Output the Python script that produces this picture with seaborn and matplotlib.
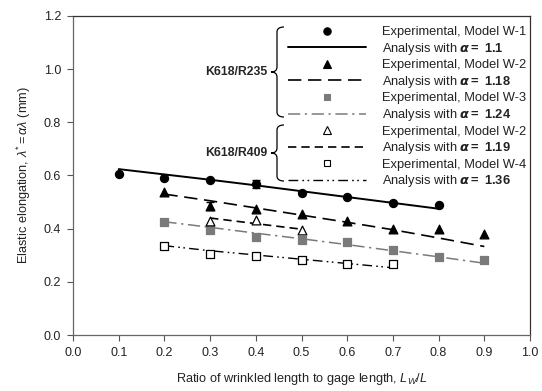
import numpy as np
import pandas as pd
import seaborn as sns
import matplotlib
matplotlib.use("Agg")
import matplotlib.pyplot as plt
from matplotlib.lines import Line2D
from matplotlib.path import Path
from matplotlib.patches import PathPatch

sns.set_style("white")
plt.rcParams['font.family'] = ['Liberation Sans', 'DejaVu Sans']
plt.rcParams['mathtext.fontset'] = 'custom'
plt.rcParams['mathtext.rm'] = 'Liberation Sans'
plt.rcParams['mathtext.it'] = 'Liberation Sans:italic'
plt.rcParams['mathtext.bf'] = 'Liberation Sans:bold'

# ---- data ----
x_w1 = [0.1, 0.2, 0.3, 0.4, 0.5, 0.6, 0.7, 0.8]
exp_w1 = [0.606, 0.590, 0.583, 0.567, 0.534, 0.519, 0.496, 0.490]
ana_w1 = [0.624, 0.604, 0.584, 0.563, 0.541, 0.519, 0.497, 0.475]

x_w2a = [0.2, 0.3, 0.4, 0.5, 0.6, 0.7, 0.8, 0.9]
exp_w2a = [0.537, 0.486, 0.474, 0.455, 0.429, 0.397, 0.397, 0.380]
ana_w2a = [0.530, 0.505, 0.478, 0.451, 0.424, 0.396, 0.365, 0.333]

x_w3 = [0.2, 0.3, 0.4, 0.5, 0.6, 0.7, 0.8, 0.9]
exp_w3 = [0.425, 0.395, 0.369, 0.357, 0.350, 0.320, 0.294, 0.282]
ana_w3 = [0.426, 0.405, 0.383, 0.362, 0.340, 0.317, 0.294, 0.270]

x_w2b = [0.3, 0.4, 0.5]
exp_w2b = [0.429, 0.433, 0.395]
ana_w2b = [0.440, 0.419, 0.398]

x_w4 = [0.2, 0.3, 0.4, 0.5, 0.6, 0.7]
exp_w4 = [0.335, 0.305, 0.297, 0.282, 0.267, 0.267]
ana_w4 = [0.336, 0.317, 0.301, 0.285, 0.269, 0.253]

x_ticks = [0.0, 0.1, 0.2, 0.3, 0.4, 0.5, 0.6, 0.7, 0.8, 0.9, 1.0]
y_ticks = [0.0, 0.2, 0.4, 0.6, 0.8, 1.0, 1.2]

group_labels = ["K618/R235", "K618/R409"]
legend_labels = [
    "Experimental, Model W-1", r"Analysis with $\boldsymbol{\alpha}\mathbf{{=}\ 1.1}$",
    "Experimental, Model W-2", r"Analysis with $\boldsymbol{\alpha}\mathbf{{=}\ 1.18}$",
    "Experimental, Model W-3", r"Analysis with $\boldsymbol{\alpha}\mathbf{{=}\ 1.24}$",
    "Experimental, Model W-2", r"Analysis with $\boldsymbol{\alpha}\mathbf{{=}\ 1.19}$",
    "Experimental, Model W-4", r"Analysis with $\boldsymbol{\alpha}\mathbf{{=}\ 1.36}$",
]

W, H = 542, 391
fig = plt.figure(figsize=(W / 100, H / 100), dpi=100)
AX_L, AX_R, AX_T, AX_B = 73, 530, 16, 335
ax = fig.add_axes([AX_L / W, 1 - AX_B / H, (AX_R - AX_L) / W, (AX_B - AX_T) / H])

GRAY = "#7a7a7a"
TXT = "#222222"
FS = 9.0
LFS = 9.3

styles = [
    dict(color="black", lw=1.4, dashes=None),
    dict(color="black", lw=1.2, dashes=(8, 4)),
    dict(color=GRAY, lw=1.1, dashes=(8, 3, 1.5, 3)),
    dict(color="black", lw=1.2, dashes=(5, 3)),
    dict(color="black", lw=1.0, dashes=(7, 3, 1.2, 2.5, 1.2, 3)),
]
markers = [
    dict(marker="o", s=34, color="black", edgecolor="black"),
    dict(marker="^", s=40, color="black", edgecolor="black"),
    dict(marker="s", s=32, color=GRAY, edgecolor=GRAY),
    dict(marker="^", s=40, color="white", edgecolor="black"),
    dict(marker="s", s=32, color="white", edgecolor="black"),
]
series = [
    (x_w1, exp_w1, ana_w1),
    (x_w2a, exp_w2a, ana_w2a),
    (x_w3, exp_w3, ana_w3),
    (x_w2b, exp_w2b, ana_w2b),
    (x_w4, exp_w4, ana_w4),
]

for (xs, ye, ya), st, mk in zip(series, styles, markers):
    sns.lineplot(x=xs, y=ya, ax=ax, color=st["color"], lw=st["lw"])
    line = ax.lines[-1]
    if st["dashes"] is not None:
        line.set_dashes(st["dashes"])
    sns.scatterplot(x=xs, y=ye, ax=ax, marker=mk["marker"], s=mk["s"],
                    color=mk["color"], edgecolor=mk["edgecolor"], linewidth=0.9,
                    zorder=3)

# small error bars on a few points
err_x = [0.4, 0.3]
err_y = [exp_w1[3], exp_w2a[1]]
ax.errorbar(err_x, err_y, yerr=[0.015, 0.015], fmt="none", ecolor="black",
            elinewidth=0.8, capsize=3, zorder=2)

ax.set_xlim(0, 1.0)
ax.set_ylim(0, 1.2)
ax.set_xticks(x_ticks)
ax.set_yticks(y_ticks)
ax.set_xticklabels([f"{v:.1f}" for v in x_ticks], fontsize=FS, color=TXT)
ax.set_yticklabels([f"{v:.1f}" for v in y_ticks], fontsize=FS, color=TXT)
ax.tick_params(direction="out", length=4.5, width=0.8, color="#555555",
               bottom=True, left=True, pad=4)
for sp in ax.spines.values():
    sp.set_visible(True)
    sp.set_color("#333333")
    sp.set_linewidth(0.9)
ax.spines["left"].set_color("#666666")
ax.spines["bottom"].set_color("#666666")

ax.set_xlabel(r"Ratio of wrinkled length to gage length, $L_W/L$",
              fontsize=FS + 0.2, color=TXT, labelpad=9)
ax.set_ylabel(r"Elastic elongation, $\lambda^{*} = \alpha\lambda$ (mm)",
              fontsize=FS + 0.2, color=TXT, labelpad=8)

# legend
handles = []
for st, mk in zip(styles, markers):
    handles.append(Line2D([], [], ls="none", marker=mk["marker"],
                          markersize=5.3 if mk["marker"] != "s" else 4.8,
                          markerfacecolor=mk["color"], markeredgecolor=mk["edgecolor"],
                          markeredgewidth=0.8))
    h = Line2D([], [], color=st["color"], lw=st["lw"])
    if st["dashes"] is not None:
        h.set_dashes(st["dashes"])
    handles.append(h)

leg = ax.legend(handles, legend_labels, loc="upper left",
                bbox_to_anchor=((288 - AX_L) / (AX_R - AX_L),
                                1 - (26 - AX_T) / (AX_B - AX_T)),
                frameon=False, fontsize=LFS, handlelength=6.0, handletextpad=1.3,
                labelspacing=0.2, borderaxespad=0.0, borderpad=0.0, numpoints=1)
for t in leg.get_texts():
    t.set_color(TXT)

# braces (pixel positions, top-origin)
def brace(x_tip, x_mid, x_end, y_top, y_tip, y_bot):
    def fy(y):
        return 1 - y / H
    def fx(x):
        return x / W
    r = 5
    verts = [
        (x_end, y_top), (x_mid, y_top), (x_mid, y_top + r),
        (x_mid, y_tip - r), (x_mid, y_tip), (x_tip, y_tip),
        (x_mid, y_tip), (x_mid, y_tip + r),
        (x_mid, y_bot - r), (x_mid, y_bot), (x_end, y_bot),
    ]
    codes = [Path.MOVETO, Path.CURVE3, Path.CURVE3,
             Path.LINETO, Path.CURVE3, Path.CURVE3,
             Path.CURVE3, Path.CURVE3,
             Path.LINETO, Path.CURVE3, Path.CURVE3]
    verts = [(fx(a), fy(b)) for a, b in verts]
    p = PathPatch(Path(verts, codes), transform=fig.transFigure, fill=False,
                  edgecolor="black", lw=0.9)
    fig.add_artist(p)

brace(271, 277, 284, 27, 72, 117)
brace(271, 277, 284, 125, 153, 181)

fig.text(267 / W, 1 - 72 / H, group_labels[0], fontsize=8.8, fontweight="bold",
         ha="right", va="center")
fig.text(267 / W, 1 - 153 / H, group_labels[1], fontsize=8.8, fontweight="bold",
         ha="right", va="center")

fig.savefig("out.png", dpi=100, facecolor="white")
